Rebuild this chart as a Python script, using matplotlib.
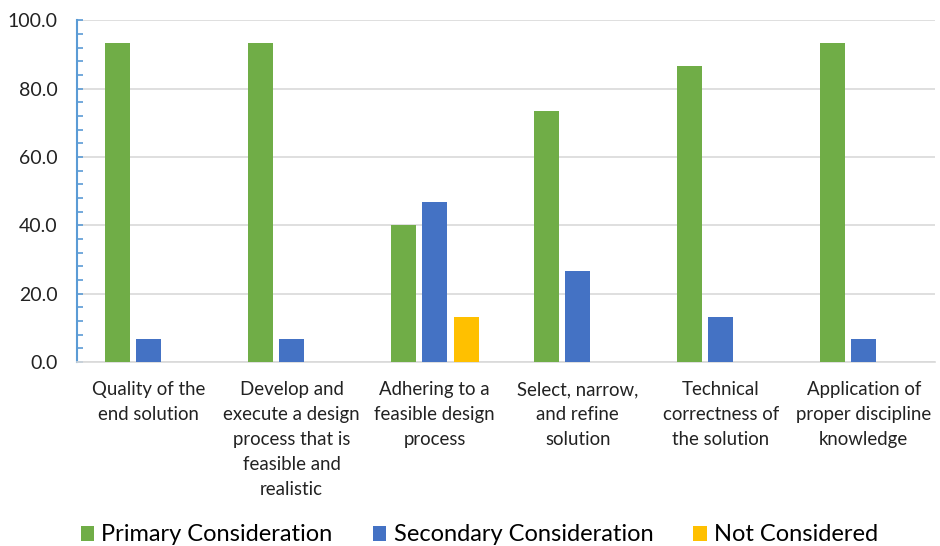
import numpy as np
import matplotlib.pyplot as plt
from matplotlib.ticker import MultipleLocator, FormatStrFormatter

plt.rcParams['font.family'] = ['Lato', 'DejaVu Sans']

categories = [
    "Quality of the\nend solution",
    "Develop and\nexecute a design\nprocess that is\nfeasible and\nrealistic",
    "Adhering to a\nfeasible design\nprocess",
    "Select, narrow,\nand refine\nsolution",
    "Technical\ncorrectness of\nthe solution",
    "Application of\nproper discipline\nknowledge",
]
primary = [93.3, 93.3, 40.0, 73.3, 86.7, 93.3]
secondary = [6.7, 6.7, 46.7, 26.7, 13.3, 6.7]
not_considered = [0.0, 0.0, 13.3, 0.0, 0.0, 0.0]

series = [
    ("Primary Consideration", primary, "#70AD47"),
    ("Secondary Consideration", secondary, "#4472C4"),
    ("Not Considered", not_considered, "#FFC000"),
]

fig = plt.figure(figsize=(9.4, 5.46), dpi=100)
ax = fig.add_axes([0.082, 0.337, 0.913, 0.626])

x = np.arange(len(categories))
width = 0.175
step = 0.22
for i, (name, vals, color) in enumerate(series):
    ax.bar(x + (i - 1) * step, vals, width, color=color, label=name, zorder=3)

ax.set_xlim(-0.5, len(categories) - 0.5)
ax.set_ylim(0, 100)
ax.yaxis.set_major_locator(MultipleLocator(20))
ax.yaxis.set_minor_locator(MultipleLocator(4))
ax.yaxis.set_major_formatter(FormatStrFormatter('%.1f'))
ax.grid(axis='y', color='#D9D9D9', linewidth=1.2, zorder=0)

for side in ['top', 'right']:
    ax.spines[side].set_visible(False)
ax.spines['left'].set_color('#5B9BD5')
ax.spines['left'].set_linewidth(1.5)
ax.spines['bottom'].set_color('#D9D9D9')
ax.spines['bottom'].set_linewidth(1.2)

ax.tick_params(axis='y', which='both', direction='in', color='#5B9BD5',
               length=4, width=1.2, labelsize=14, labelcolor='#222222', pad=14)
ax.tick_params(axis='x', length=0, labelsize=13.4, labelcolor='#222222', pad=14)
ax.set_xticks(x)
ax.set_xticklabels(categories, linespacing=1.56)

fig.legend(loc='lower center', bbox_to_anchor=(0.51, -0.038), ncol=3, frameon=False,
           fontsize=17, handlelength=0.58, handleheight=0.58, handletextpad=0.3,
           columnspacing=1.7)

fig.savefig("out.png", dpi=100)
